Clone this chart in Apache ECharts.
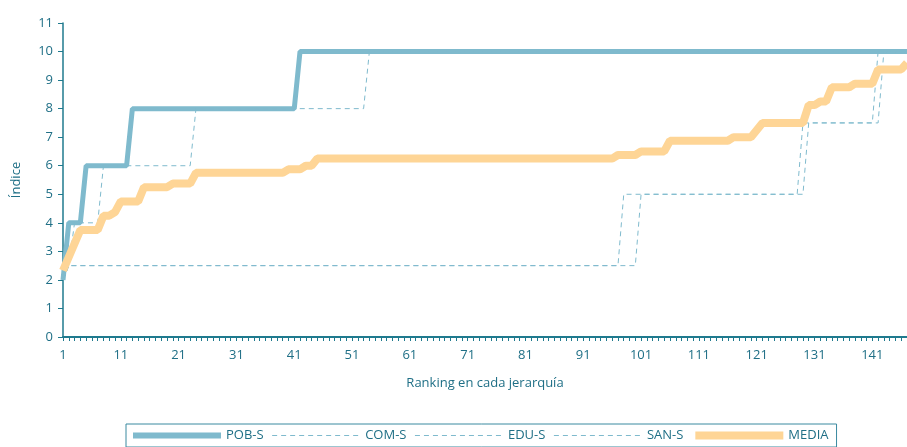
<!DOCTYPE html>
<html>
<head>
<meta charset="utf-8">
<script src="https://cdn.jsdelivr.net/npm/echarts@6/dist/echarts.min.js"></script>
<style>
  html, body { margin: 0; padding: 0; background: #fff; }
  #chart { width: 907px; height: 447px; }
</style>
</head>
<body>
<div id="chart"></div>
<script>
// rangos 1..147 del eje X
var ranks = [];
for (var r = 1; r <= 147; r++) ranks.push(String(r));

// vértices de cada serie: [ranking, índice]
var pobS = [[1, 2], [2, 4], [4, 4], [5, 6], [12, 6], [13, 8], [41, 8], [42, 10], [147, 10]];
var comS = [[1, 2], [2, 2.5], [3, 4], [7, 4], [8, 6], [23, 6], [24, 8], [53, 8], [54, 10], [147, 10]];
var eduS = [[1, 2], [2, 2.5], [97, 2.5], [98, 5], [128, 5], [129, 7.5], [141, 7.5], [142, 10], [147, 10]];
var sanS = [[1, 2], [2, 2.5], [100, 2.5], [101, 5], [129, 5], [130, 7.5], [142, 7.5], [143, 10], [147, 10]];
var media = [[1, 2.33], [4, 3.75], [7, 3.75], [8, 4.25], [9, 4.25], [10, 4.375], [11, 4.75], [14, 4.75],
  [15, 5.25], [19, 5.25], [20, 5.375], [23, 5.375], [24, 5.75], [39, 5.75], [40, 5.875], [42, 5.875],
  [43, 6], [44, 6], [45, 6.25], [96, 6.25], [97, 6.375], [100, 6.375], [101, 6.5], [105, 6.5],
  [106, 6.875], [116, 6.875], [117, 7], [120, 7], [122, 7.5], [129, 7.5], [130, 8.125], [131, 8.125],
  [132, 8.25], [133, 8.25], [134, 8.75], [137, 8.75], [138, 8.875], [141, 8.875], [142, 9.375],
  [146, 9.375], [147, 9.6]];

var azul = '#7fbacd';
var naranja = '#fed596';
var ejes = '#1f7a8e';
var texto = '#1f6f86';
var fuente = 'Open Sans';

// pasar ranking a índice de categoría
function toIdx(arr) {
  return arr.map(function (p) { return [p[0] - 1, p[1]]; });
}

function dashed(name, arr) {
  return {
    name: name,
    type: 'line',
    symbol: 'none',
    silent: true,
    itemStyle: { color: azul },
    lineStyle: { color: azul, width: 1, type: [5, 4] },
    data: toIdx(arr)
  };
}

var myChart = echarts.init(document.getElementById('chart'));

var option = {
  animation: false,
  textStyle: { fontFamily: fuente },
  grid: { left: 63, right: 0, top: 23, bottom: 110 },
  legend: {
    left: 126,
    top: 424,
    itemWidth: 88,
    itemHeight: 14,
    itemGap: 8,
    padding: [5, 8, 5, 4],
    borderColor: '#3a8aa0',
    borderWidth: 1,
    itemStyle: { opacity: 0 },
    textStyle: { color: texto, fontSize: 13, fontFamily: fuente },
    data: [
      { name: 'POB-S', lineStyle: { width: 6, color: azul } },
      { name: 'COM-S', lineStyle: { width: 1, color: azul, type: [5, 4] } },
      { name: 'EDU-S', lineStyle: { width: 1, color: azul, type: [5, 4] } },
      { name: 'SAN-S', lineStyle: { width: 1, color: azul, type: [5, 4] } },
      { name: 'MEDIA', lineStyle: { width: 8, color: naranja } }
    ]
  },
  xAxis: {
    type: 'category',
    boundaryGap: false,
    data: ranks,
    name: 'Ranking en cada jerarquía',
    nameLocation: 'middle',
    nameGap: 40,
    nameTextStyle: { color: texto, fontSize: 13 },
    axisLine: { lineStyle: { color: ejes, width: 2 } },
    axisTick: { interval: 0, length: 4, lineStyle: { color: ejes } },
    axisLabel: { interval: 9, color: texto, fontSize: 13, margin: 12 },
    splitLine: { show: false }
  },
  yAxis: {
    type: 'value',
    min: 0,
    max: 11,
    interval: 1,
    name: 'Índice',
    nameLocation: 'middle',
    nameRotate: 90,
    nameGap: 40,
    nameTextStyle: { color: texto, fontSize: 13 },
    axisLine: { show: true, lineStyle: { color: ejes, width: 1.5 } },
    axisTick: { show: true, length: 5, lineStyle: { color: ejes } },
    axisLabel: { color: texto, fontSize: 13, margin: 10 },
    splitLine: { show: false }
  },
  series: [
    {
      name: 'POB-S',
      type: 'line',
      symbol: 'none',
      itemStyle: { color: azul },
      lineStyle: { color: azul, width: 5 },
      data: toIdx(pobS)
    },
    dashed('COM-S', comS),
    dashed('EDU-S', eduS),
    dashed('SAN-S', sanS),
    {
      name: 'MEDIA',
      type: 'line',
      symbol: 'none',
      itemStyle: { color: naranja },
      lineStyle: { color: naranja, width: 8 },
      data: toIdx(media)
    }
  ]
};
myChart.setOption(option);
</script>
</body>
</html>
